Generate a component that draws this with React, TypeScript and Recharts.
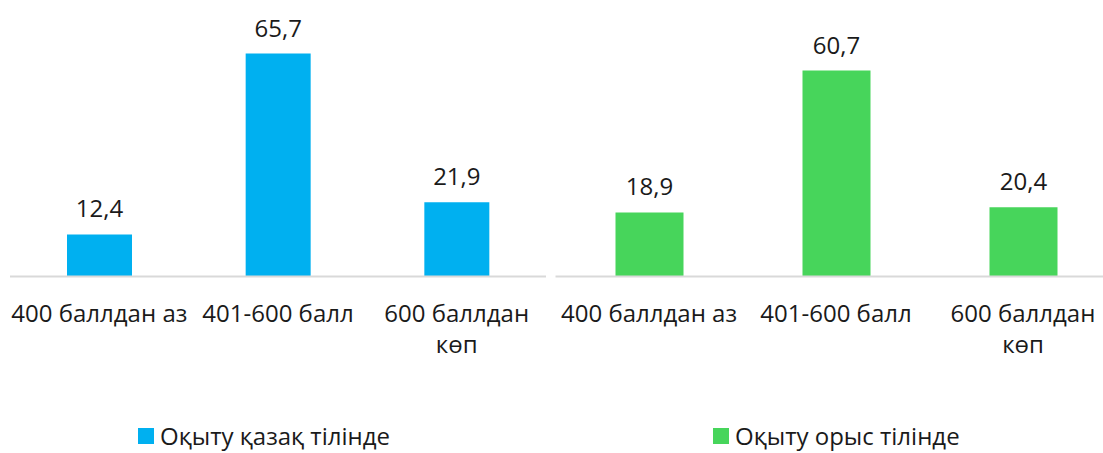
import React from 'react';
import { BarChart, Bar, XAxis, YAxis, LabelList } from 'recharts';

const categories = ['400 баллдан аз', '401-600 балл', '600 баллдан\nкөп'];
const kazakhValues = [12.4, 65.7, 21.9];
const russianValues = [18.9, 60.7, 20.4];
const seriesNames = ['Оқыту қазақ тілінде', 'Оқыту орыс тілінде'];

const BLUE = '#00B0F0';
const GREEN = '#47D55B';
const FONT = '"Open Sans", "Noto Sans", sans-serif';
const FS = 24;

const kazakhData = categories.map((c, i) => ({ name: c, value: kazakhValues[i] }));
const russianData = categories.map((c, i) => ({ name: c, value: russianValues[i] }));

const CategoryTick = ({ x, y, payload }: any) => {
    const lines = String(payload.value).split('\n');
    return (
        <text x={Number(x)} y={Number(y)} textAnchor="middle" fill="#1a1a1a" fontSize={FS} fontFamily={FONT}>
            {lines.map((l, i) => (
                <tspan key={i} x={Number(x)} dy={i === 0 ? 45 : 31}>{l}</tspan>
            ))}
        </text>
    );
};

const fmt = (v: any) => String(v).replace('.', ',');

function Panel({ data, color, width, left, right, barSize }: any) {
    return (
        <BarChart
            width={width}
            height={453}
            data={data}
            margin={{ top: 39, right, bottom: 0, left }}
            barCategoryGap={0}
        >
            <XAxis
                dataKey="name"
                axisLine={{ stroke: '#D9D9D9', strokeWidth: 2 }}
                tickLine={false}
                tickSize={0}
                tickMargin={0}
                height={176.5}
                interval={0}
                tick={<CategoryTick />}
            />
            <YAxis hide domain={[0, 70]} />
            <Bar dataKey="value" fill={color} barSize={barSize} isAnimationActive={false}>
                <LabelList
                    dataKey="value"
                    position="top"
                    offset={17}
                    formatter={fmt}
                    fill="#1a1a1a"
                    fontSize={FS}
                    fontFamily={FONT}
                />
            </Bar>
        </BarChart>
    );
}

const LegendItem = ({ left, color, label }: any) => (
    <div style={{ position: 'absolute', left, top: 421, display: 'flex', alignItems: 'center', fontFamily: FONT, fontSize: FS, lineHeight: '30px', color: '#1a1a1a', whiteSpace: 'nowrap' }}>
        <span style={{ width: 16, height: 16, background: color, marginRight: 6, display: 'inline-block' }} />
        <span>{label}</span>
    </div>
);

export default function App() {
    return (
        <div style={{ position: 'absolute', top: 0, left: 0, width: 1103, height: 453, overflow: 'hidden', background: '#fff' }}>
            <div style={{ position: 'absolute', left: 0, top: 0 }}>
                <Panel data={kazakhData} color={BLUE} width={555} left={10} right={9} barSize={65} />
            </div>
            <div style={{ position: 'absolute', left: 545, top: 0 }}>
                <Panel data={russianData} color={GREEN} width={580} left={10.5} right={8.5} barSize={68} />
            </div>
            <LegendItem left={138} color={BLUE} label={seriesNames[0]} />
            <LegendItem left={713} color={GREEN} label={seriesNames[1]} />
        </div>
    );
}
